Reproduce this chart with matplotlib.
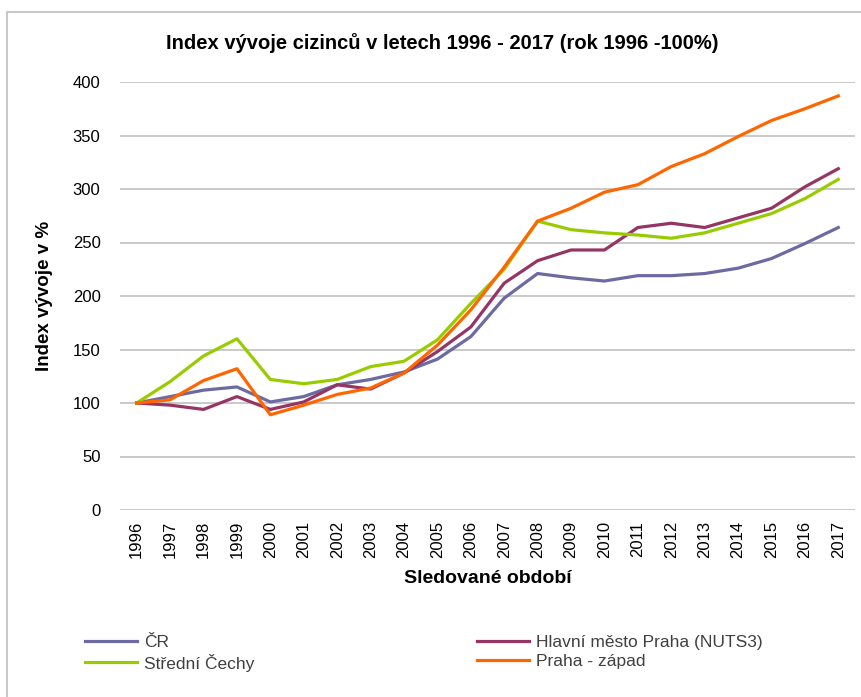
import numpy as np
import matplotlib.pyplot as plt
from matplotlib.lines import Line2D

# data
years = [str(y) for y in range(1996, 2018)]
cr = [100, 106, 112, 115, 101, 106, 117, 122, 129, 141, 162, 198,
      221, 217, 214, 219, 219, 221, 226, 235, 249, 264]
praha = [100, 98, 94, 106, 94, 101, 117, 113, 128, 148, 171, 212,
         233, 243, 243, 264, 268, 264, 273, 282, 302, 319]
stredni = [100, 120, 144, 160, 122, 118, 122, 134, 139, 159, 193, 225,
           270, 262, 259, 257, 254, 259, 268, 277, 291, 309]
zapad = [100, 103, 121, 132, 89, 98, 108, 114, 128, 154, 187, 227,
         270, 282, 297, 304, 321, 333, 349, 364, 375, 387]

series = [
    ("ČR", cr, "#6B6BA2"),
    ("Hlavní město Praha (NUTS3)", praha, "#953564"),
    ("Střední Čechy", stredni, "#99CC00"),
    ("Praha - západ", zapad, "#FF6600"),
]

plt.rcParams['font.family'] = ['Liberation Sans', 'DejaVu Sans']

fig = plt.figure(figsize=(8.61, 6.97), dpi=100)
ax = fig.add_axes([120 / 861, 1 - 510 / 697, 735 / 861, 428 / 697])

x = np.arange(len(years))
lines = {}
for name, vals, col in series:
    lines[name], = ax.plot(x, vals, color=col, lw=2.3, label=name,
                           solid_joinstyle='round', zorder=3)

ax.set_xlim(-0.5, len(years) - 0.5)
ax.set_ylim(0, 400)
ax.set_yticks(np.arange(0, 401, 50))
ax.set_xticks(x)
ax.set_xticklabels(years, rotation=90)
ax.yaxis.grid(True, color='#C0C0C0', lw=1.2)
ax.set_axisbelow(True)
for s in ax.spines.values():
    s.set_visible(False)
ax.tick_params(axis='both', length=0, labelsize=12, colors='#000000')
ax.tick_params(axis='y', pad=14)
ax.tick_params(axis='x', pad=8)

ax.set_title("Index vývoje cizinců v letech 1996 - 2017 (rok 1996 -100%)",
             fontsize=14.5, fontweight='bold', x=(442 - 120) / 735, y=1.0, pad=24)
ax.set_ylabel("Index vývoje v %", fontsize=13.5, fontweight='bold', labelpad=14)
ax.set_xlabel("Sledované období", fontsize=14, fontweight='bold', labelpad=8)

order = ["ČR", "Střední Čechy", "Hlavní město Praha (NUTS3)", "Praha - západ"]
leg = fig.legend([lines[n] for n in order], order, ncol=2, loc='upper left',
                 bbox_to_anchor=(78 / 861, 1 - 628 / 697), frameon=False,
                 fontsize=12.5, handlelength=3.0, handletextpad=0.4,
                 columnspacing=12.8, labelspacing=0.2, borderaxespad=0)
for t in leg.get_texts():
    t.set_color('#404040')

# outer chart frame (top and left edges visible)
fig.add_artist(Line2D([7 / 861, 1], [1 - 12 / 697, 1 - 12 / 697],
                      transform=fig.transFigure, color='#C8C8C8', lw=1.5))
fig.add_artist(Line2D([7 / 861, 7 / 861], [0, 1 - 12 / 697],
                      transform=fig.transFigure, color='#C8C8C8', lw=1.5))

fig.savefig('out.png', dpi=100)
